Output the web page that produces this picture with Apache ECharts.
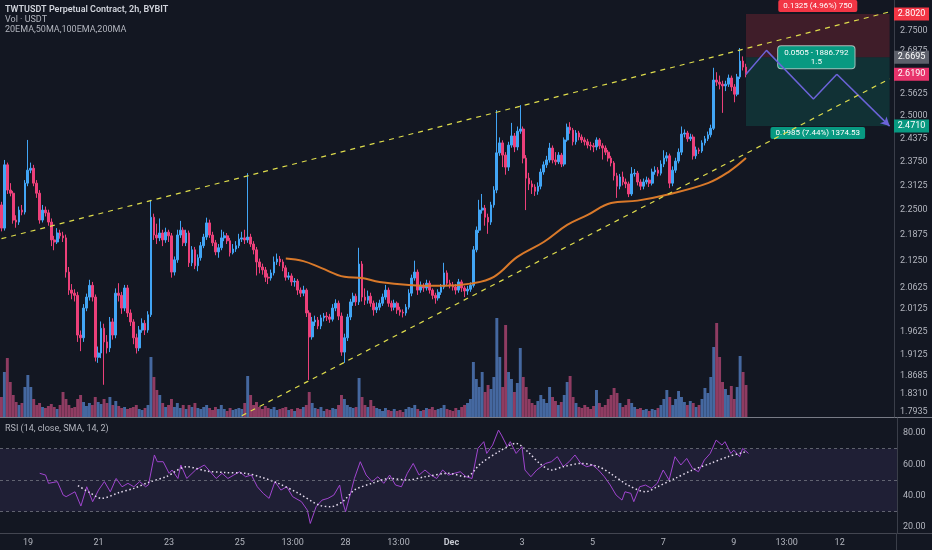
<!DOCTYPE html>
<html><head><meta charset="utf-8">
<script src="https://cdn.jsdelivr.net/npm/echarts@6/dist/echarts.min.js"></script>
<style>html,body{margin:0;padding:0;background:#131722;}#c{width:932px;height:550px;}</style>
</head><body><div id="c"></div>
<script>
// ---------- DATA ----------
const slotCount = 305;            // 2h slots from Nov 18 06:00 (incl. empty future space)
const tickLabels = [[9,'19'],[33,'21'],[57,'23'],[81,'25'],[99,'13:00'],[117,'28'],[135,'13:00'],[153,'Dec'],[177,'3'],[201,'5'],[225,'7'],[249,'9'],[267,'13:00'],[285,'12']];
const priceTicks = [1.7935,1.8310,1.8685,1.9125,1.9625,2.0125,2.0625,2.1250,2.1875,2.2500,2.3125,2.3750,2.4375,2.5000,2.5625,2.6875,2.7500];
const priceMarks = [[2.4710,'tp'],[2.6190,'last'],[2.6695,'entry'],[2.8020,'sl']];
const rsiTicks = [20,40,60,80];

const firstOpen = 2.262;
const closes = [
2.204,2.366,2.300,2.292,2.224,2.219,2.249,2.244,2.318,2.352,
2.357,2.318,2.292,2.224,2.249,2.242,2.219,2.175,2.170,2.192,
2.185,2.180,2.098,2.056,2.049,2.044,1.955,1.949,2.015,2.040,
2.067,2.040,1.907,1.916,1.970,1.940,1.927,1.984,1.955,2.049,
2.044,2.015,2.061,2.004,1.984,1.949,1.927,1.966,1.981,1.966,
2.000,2.231,2.187,2.180,2.192,2.175,2.194,2.185,2.098,2.127,
2.187,2.199,2.168,2.192,2.120,2.151,2.113,2.132,2.161,2.182,
2.217,2.187,2.168,2.146,2.156,2.180,2.185,2.173,2.144,2.153,
2.161,2.177,2.180,2.175,2.182,2.165,2.151,2.122,2.110,2.103,
2.086,2.084,2.096,2.122,2.129,2.122,2.108,2.086,2.089,2.075,
2.077,2.056,2.049,2.056,2.004,1.951,1.984,1.988,1.975,1.993,
1.997,1.995,1.990,2.015,2.026,1.997,1.918,1.949,1.995,2.029,
2.042,2.029,2.117,2.040,2.033,2.042,2.026,2.011,2.017,2.026,
2.040,2.056,2.026,2.017,2.026,2.011,2.006,2.004,2.017,2.049,
2.084,2.098,2.056,2.067,2.061,2.072,2.056,2.044,2.038,2.051,
2.063,2.096,2.072,2.067,2.063,2.056,2.075,2.061,2.054,2.058,
2.067,2.151,2.199,2.249,2.254,2.231,2.219,2.262,2.300,2.398,
2.425,2.392,2.360,2.419,2.444,2.414,2.457,2.463,2.384,2.331,
2.316,2.308,2.297,2.310,2.347,2.366,2.379,2.411,2.379,2.374,
2.392,2.368,2.433,2.468,2.460,2.428,2.452,2.441,2.433,2.428,
2.419,2.417,2.414,2.433,2.417,2.411,2.400,2.384,2.371,2.337,
2.310,2.334,2.321,2.316,2.290,2.342,2.344,2.321,2.310,2.321,
2.326,2.318,2.347,2.352,2.344,2.368,2.384,2.390,2.318,2.352,
2.376,2.400,2.449,2.452,2.436,2.441,2.390,2.406,2.403,2.425,
2.436,2.447,2.465,2.602,2.596,2.590,2.585,2.590,2.608,2.582,
2.561,2.611,2.658,2.640,2.619];
const highs = [
2.270,2.379,2.372,2.318,2.298,2.236,2.258,2.262,2.326,2.433,
2.372,2.366,2.326,2.300,2.262,2.258,2.250,2.228,2.185,2.204,
2.200,2.195,2.188,2.110,2.070,2.058,2.052,1.965,2.024,2.048,
2.080,2.075,2.046,1.930,1.985,1.980,1.955,1.995,1.992,2.060,
2.072,2.052,2.068,2.068,2.012,1.990,1.958,1.975,1.992,1.988,
2.008,2.275,2.240,2.215,2.228,2.200,2.205,2.200,2.192,2.135,
2.200,2.222,2.206,2.200,2.198,2.160,2.158,2.140,2.170,2.190,
2.230,2.225,2.195,2.175,2.165,2.200,2.195,2.192,2.180,2.165,
2.172,2.190,2.195,2.200,2.344,2.190,2.172,2.158,2.130,2.118,
2.110,2.095,2.104,2.135,2.142,2.136,2.128,2.114,2.098,2.095,
2.084,2.082,2.062,2.066,2.060,2.010,1.995,1.998,1.995,2.000,
2.004,2.006,2.002,2.024,2.035,2.032,2.005,1.958,2.002,2.036,
2.050,2.048,2.156,2.124,2.060,2.055,2.050,2.032,2.028,2.034,
2.048,2.068,2.062,2.032,2.034,2.030,2.018,2.012,2.024,2.058,
2.092,2.125,2.104,2.076,2.072,2.080,2.078,2.060,2.050,2.058,
2.070,2.120,2.102,2.080,2.075,2.070,2.082,2.080,2.066,2.066,
2.074,2.160,2.208,2.275,2.290,2.262,2.240,2.270,2.310,2.516,
2.440,2.432,2.400,2.428,2.480,2.452,2.470,2.530,2.470,2.392,
2.345,2.325,2.315,2.320,2.356,2.375,2.390,2.425,2.418,2.400,
2.400,2.398,2.440,2.478,2.482,2.466,2.460,2.458,2.448,2.440,
2.436,2.428,2.425,2.440,2.438,2.424,2.418,2.406,2.390,2.376,
2.345,2.342,2.348,2.330,2.322,2.360,2.355,2.350,2.328,2.330,
2.335,2.332,2.356,2.362,2.360,2.378,2.405,2.400,2.396,2.362,
2.385,2.410,2.470,2.462,2.458,2.450,2.448,2.415,2.412,2.432,
2.444,2.456,2.475,2.638,2.625,2.615,2.600,2.600,2.618,2.615,
2.590,2.620,2.697,2.672,2.650];
const lows = [
2.196,2.198,2.290,2.284,2.215,2.205,2.212,2.236,2.238,2.310,
2.344,2.310,2.280,2.215,2.218,2.233,2.210,2.160,2.150,2.165,
2.178,2.170,2.085,2.045,2.035,2.030,1.940,1.920,1.940,2.008,
2.032,2.030,1.898,1.895,1.905,1.849,1.915,1.918,1.945,1.948,
2.030,2.002,2.008,1.995,1.975,1.935,1.915,1.920,1.960,1.955,
1.960,1.995,2.175,2.165,2.172,2.160,2.168,2.170,2.085,2.090,
2.120,2.180,2.160,2.160,2.110,2.112,2.105,2.100,2.125,2.155,
2.175,2.180,2.160,2.138,2.132,2.150,2.172,2.165,2.135,2.140,
2.146,2.155,2.170,2.165,2.168,2.158,2.140,2.090,2.095,2.092,
2.075,2.070,2.078,2.090,2.115,2.112,2.100,2.078,2.080,2.066,
2.064,2.045,2.040,2.042,1.995,1.859,1.945,1.975,1.968,1.968,
1.985,1.986,1.982,1.985,2.008,1.988,1.910,1.895,1.942,1.988,
2.020,2.020,2.022,2.030,2.022,2.025,2.018,1.998,2.004,2.010,
2.020,2.034,2.018,2.008,2.010,2.002,1.998,1.994,1.998,2.012,
2.042,2.078,2.045,2.050,2.052,2.055,2.048,2.035,2.025,2.032,
2.045,2.058,2.065,2.060,2.055,2.046,2.050,2.052,2.040,2.045,
2.052,2.062,2.145,2.192,2.240,2.210,2.190,2.212,2.255,2.292,
2.390,2.360,2.340,2.350,2.412,2.400,2.405,2.450,2.370,2.249,
2.300,2.290,2.285,2.288,2.302,2.340,2.358,2.372,2.370,2.365,
2.368,2.360,2.362,2.428,2.450,2.418,2.420,2.432,2.425,2.418,
2.410,2.405,2.400,2.405,2.408,2.380,2.392,2.375,2.362,2.325,
2.280,2.302,2.312,2.305,2.282,2.285,2.335,2.312,2.300,2.302,
2.315,2.308,2.312,2.340,2.336,2.338,2.360,2.375,2.305,2.310,
2.345,2.370,2.392,2.440,2.428,2.430,2.380,2.382,2.395,2.398,
2.418,2.430,2.440,2.460,2.585,2.575,2.508,2.570,2.582,2.570,
2.538,2.555,2.605,2.630,2.610];
const volumes = [
20,45,59,35,22,15,12,14,30,42, 30,18,12,14,10,9,11,13,10,8,
12,25,18,12,9,10,18,22,15,11, 14,12,20,15,13,18,14,20,12,16,
11,9,10,8,9,10,12,8,7,9, 12,60,40,27,22,14,10,12,18,10,
14,9,12,8,12,10,14,9,8,10, 12,9,7,10,8,12,8,6,9,7,
8,9,8,14,41,22,12,15,10,8, 11,9,8,10,7,8,9,10,7,8,
6,9,8,10,12,25,14,9,8,10, 6,8,7,9,8,12,22,18,12,10,
9,10,39,20,12,10,17,11,9,8, 6,9,7,6,8,6,7,5,8,10,
9,12,8,6,7,9,8,10,7,8, 9,12,8,7,6,9,7,10,12,14,
18,55,38,30,45,25,32,28,40,99, 60,30,92,45,38,25,34,69,40,30,
18,14,12,16,22,18,14,30,20,16, 12,15,22,35,41,20,14,10,9,12,
10,8,11,27,14,10,12,18,22,29, 24,14,10,12,18,14,10,8,9,7,
8,6,8,7,9,12,18,27,20,12, 18,26,20,15,12,16,14,10,12,18,
29,24,40,70,94,60,35,28,22,31, 18,30,61,45,32];
const ema100 = [[97,2.130],[103,2.124],[109,2.108],[117,2.087],[123,2.084],[129,2.075],[139,2.068],[151,2.066],[160,2.071],[168,2.087],[176,2.134],[185,2.170],[193,2.212],[200,2.237],[208,2.267],[217,2.273],[227,2.288],[241,2.318],[248,2.347],[254,2.384]];
const upperChannel = [[0,2.178],[304,2.811]];
const lowerChannel = [[82,1.786],[303,2.6055]];
const projection = [[254,2.619],[261,2.690],[277,2.547],[285,2.619]];
const projectionEnd = [303,2.471];
const position = {start:254, end:303, stop:2.802, entry:2.6695, target:2.471, labelSlot:278};
const rsi = [[13,54.3],[15,53.2],[16,47.9],[19,49],[21,40.4],[22,39.4],[25,42.5],[27,33.4],[29,45.7],[31,36.2],[33,43.6],[35,49],[37,42.5],[39,51],[41,45.7],[43,47.9],[45,45.7],[47,49],[49,45.7],[50,47],[52,66],[53,61.7],[55,61.7],[57,54.3],[58,56.4],[60,51],[61,59.6],[63,51],[66,56.4],[69,59.6],[71,55.3],[73,51],[75,54.3],[77,51],[79,53.2],[81,55.3],[83,52.1],[85,53.2],[87,45.7],[89,41.5],[91,38.3],[93,49],[95,43.6],[97,45.7],[99,39.4],[102,36.2],[104,30.8],[105,22.3],[107,33],[109,37.2],[111,38.3],[113,40.4],[115,46.8],[116,36.2],[117,29.8],[119,43.6],[120,51],[122,61.7],[124,53.2],[126,49],[128,52.1],[130,47.9],[132,53.2],[134,46.8],[136,45.7],[138,54.3],[140,60.6],[142,53.2],[144,56.4],[146,53.2],[148,51],[150,56.4],[152,53.2],[154,54.3],[156,55.3],[158,52.1],[160,51],[162,70.2],[164,74.5],[165,67],[167,72.3],[169,81.9],[170,78.7],[172,71.3],[173,74.5],[175,67],[177,71.3],[178,56.4],[180,52.1],[182,56.4],[185,60.6],[187,61.7],[189,64.9],[191,58.5],[193,61.7],[195,66],[197,60.6],[199,58.5],[201,59.6],[203,56.4],[205,52.1],[207,46.8],[209,40.4],[211,37.2],[212,42.5],[214,41.5],[215,36.2],[217,45.7],[219,46.8],[221,44.7],[223,47.9],[225,56.4],[227,50],[229,64.9],[231,59.6],[233,63.8],[235,57.4],[237,55.3],[239,62.8],[241,67],[243,75.5],[245,72.3],[246,74.5],[248,67],[249,69.1],[251,64.9],[252,70.2],[254,67]];
const rsiSma = [[26,46.4],[30,42],[34,38.3],[40,42],[45,44.7],[50,48.5],[56,52.1],[63,58.5],[70,55.7],[76,54.8],[83,54.3],[88,52],[94,48],[101,41.5],[108,34],[112,33],[116,36.2],[120,43.6],[126,47.9],[132,51],[138,50],[144,52.1],[152,54.3],[158,52.1],[163,60.6],[169,68],[175,73.4],[179,68],[183,60.6],[187,56.4],[191,58.5],[197,60.6],[203,58.5],[207,54.3],[213,46.8],[219,42.5],[223,45.7],[229,51],[235,56.4],[241,60.6],[247,64.9],[253,68]];

// ---------- BUILD ----------
const slots = Array.from({length: slotCount}, (_, i) => i);
const labelMap = {}; tickLabels.forEach(([i, t]) => labelMap[i] = t);
const candles = closes.map((c, i) => [i === 0 ? firstOpen : closes[i - 1], c, lows[i], highs[i]]);
const UP = '#42a5f5', DOWN = '#ec407a';
const volData = volumes.map((v, i) => ({value: v, itemStyle: {color: candles[i][1] >= candles[i][0] ? '#4568a0' : '#8f3c62'}}));
const markStyle = {tp: '#089981', last: '#e8336b', entry: '#5d606b', sl: '#f23645'};
const markLookup = {}; priceMarks.forEach(([v, k]) => markLookup[v.toFixed(4)] = k);
const FONT = 'Roboto';

const chart = echarts.init(document.getElementById('c'));
chart.setOption({
  animation: false,
  backgroundColor: '#131722',
  textStyle: {fontFamily: FONT},
  grid: [
    {left: 0, right: 35, top: 0, height: 417},
    {left: 0, right: 35, top: 418, height: 115}
  ],
  xAxis: [
    {type: 'category', data: slots, gridIndex: 0, show: false, boundaryGap: true},
    {type: 'category', data: slots, gridIndex: 1, boundaryGap: true,
      axisLine: {show: false}, axisTick: {show: false}, splitLine: {show: false},
      axisLabel: {
        color: '#b2b5be', fontSize: 9, margin: 5, fontFamily: FONT,
        interval: (idx) => labelMap[idx] !== undefined,
        formatter: (v, idx) => labelMap[idx] === 'Dec' ? '{b|Dec}' : (labelMap[idx] || ''),
        rich: {b: {fontWeight: 'bold', fontSize: 9, color: '#c5c8d0'}}
      }}
  ],
  yAxis: [
    {type: 'log', gridIndex: 0, position: 'right', min: 1.7834, max: 2.8463,
      splitLine: {show: false}, axisTick: {show: false},
      axisLine: {show: true, lineStyle: {color: '#3a3e49'}},
      axisLabel: {
        margin: 0, fontSize: 9, fontFamily: FONT,
        customValues: priceTicks.concat(priceMarks.map(m => m[0])),
        formatter: (v) => {
          const s = Number(v).toFixed(4);
          const k = markLookup[s];
          return k ? '{' + k + '|' + s + '}' : '{n|' + s + '}';
        },
        rich: {
          n: {color: '#b2b5be', padding: [0, 0, 0, 6], fontSize: 9},
          tp: {color: '#fff', backgroundColor: markStyle.tp, padding: [2, 3], width: 29, align: 'center', fontSize: 9},
          last: {color: '#fff', backgroundColor: markStyle.last, padding: [2, 3], width: 29, align: 'center', fontSize: 9},
          entry: {color: '#fff', backgroundColor: markStyle.entry, padding: [2, 3], width: 29, align: 'center', fontSize: 9},
          sl: {color: '#fff', backgroundColor: markStyle.sl, padding: [2, 3], width: 29, align: 'center', fontSize: 9}
        }
      }},
    {type: 'value', gridIndex: 0, min: 0, max: 417, show: false},
    {type: 'value', gridIndex: 1, position: 'right', min: 16.2, max: 89.6,
      splitLine: {show: false}, axisTick: {show: false},
      axisLine: {show: true, lineStyle: {color: '#3a3e49'}},
      axisLabel: {color: '#b2b5be', fontSize: 9, margin: 6, fontFamily: FONT,
        customValues: rsiTicks, formatter: (v) => Number(v).toFixed(2)}}
  ],
  series: [
    {type: 'bar', name: 'Vol', xAxisIndex: 0, yAxisIndex: 1, data: volData, barCategoryGap: '0%', z: 1, silent: true},
    {type: 'candlestick', name: 'TWTUSDT', xAxisIndex: 0, yAxisIndex: 0, data: candles, barWidth: 2.2, z: 3,
      itemStyle: {color: UP, color0: DOWN, borderColor: UP, borderColor0: DOWN, borderWidth: 1},
      markArea: {silent: true, data: [
        [{xAxis: position.start, yAxis: position.stop, itemStyle: {color: 'rgba(242,54,69,0.2)'},
          label: {show: true, position: 'top', distance: 2, formatter: '0.1325 (4.96%) 750', color: '#fff', fontSize: 8,
            backgroundColor: '#f23645', padding: [2, 5], borderRadius: 2}},
         {xAxis: position.end, yAxis: position.entry}],
        [{xAxis: position.start, yAxis: position.entry, itemStyle: {color: 'rgba(8,153,129,0.2)'},
          label: {show: true, position: 'bottom', distance: 1, formatter: '0.1985 (7.44%) 1374.53', color: '#fff', fontSize: 8,
            backgroundColor: '#089981', padding: [2, 5], borderRadius: 2}},
         {xAxis: position.end, yAxis: position.target}]
      ]},
      markPoint: {silent: true, symbol: 'rect', symbolSize: 1, itemStyle: {color: 'rgba(0,0,0,0)'},
        data: [{coord: [position.labelSlot, position.entry],
          label: {show: true, position: 'inside', formatter: '0.0505 - 1886.792\n1.5', color: '#fff', fontSize: 8, lineHeight: 9,
            align: 'center', backgroundColor: '#089981', borderColor: 'rgba(220,255,245,0.7)', borderWidth: 1, borderRadius: 3, padding: [2, 6]}}]}
    },
    {type: 'line', name: '100EMA', xAxisIndex: 0, yAxisIndex: 0, data: ema100, smooth: 0.4, symbol: 'none',
      lineStyle: {color: '#d9792a', width: 2}, z: 4},
    {type: 'line', name: 'upper', xAxisIndex: 0, yAxisIndex: 0, data: upperChannel, symbol: 'none',
      lineStyle: {color: '#dedc4c', width: 1.2, type: [5, 5]}, z: 5},
    {type: 'line', name: 'lower', xAxisIndex: 0, yAxisIndex: 0, data: lowerChannel, symbol: 'none',
      lineStyle: {color: '#dedc4c', width: 1.2, type: [5, 5]}, z: 5},
    {type: 'line', name: 'projection', xAxisIndex: 0, yAxisIndex: 0, data: projection, symbol: 'none',
      lineStyle: {color: '#6c63d9', width: 1.5}, z: 6,
      markLine: {silent: true, symbol: ['none', 'arrow'], symbolSize: [7, 9], label: {show: false},
        lineStyle: {color: '#6c63d9', width: 1.5, type: 'solid'},
        data: [[{coord: projection[projection.length - 1]}, {coord: projectionEnd}]]}},
    {type: 'line', name: 'RSI', xAxisIndex: 1, yAxisIndex: 2, data: rsi, symbol: 'none',
      lineStyle: {color: '#a045cf', width: 1}, z: 3,
      markArea: {silent: true, itemStyle: {color: 'rgba(126,87,194,0.12)'}, data: [[{yAxis: 30}, {yAxis: 70}]]},
      markLine: {silent: true, symbol: 'none', label: {show: false},
        lineStyle: {color: 'rgba(120,123,134,0.75)', type: [3, 3], width: 1},
        data: [{yAxis: 70}, {yAxis: 50}, {yAxis: 30}]}},
    {type: 'line', name: 'RSI SMA', xAxisIndex: 1, yAxisIndex: 2, data: rsiSma, symbol: 'none', smooth: 0.3,
      lineStyle: {color: '#e6dcef', width: 1.5, type: [1.5, 2.5]}, z: 4}
  ],
  graphic: [
    {type: 'line', shape: {x1: 0, y1: 417.5, x2: 932, y2: 417.5}, style: {stroke: '#787b86', lineWidth: 1}, silent: true},
    {type: 'line', shape: {x1: 0, y1: 533.5, x2: 932, y2: 533.5}, style: {stroke: '#434651', lineWidth: 1}, silent: true},
    {type: 'line', shape: {x1: 896.5, y1: 533, x2: 896.5, y2: 550}, style: {stroke: '#3a3e49', lineWidth: 1}, silent: true},
    {type: 'text', left: 5, top: 5, style: {text: 'TWTUSDT Perpetual Contract, 2h, BYBIT', fill: '#d1d4dc', font: '600 9px Roboto'}},
    {type: 'text', left: 5, top: 15, style: {text: 'Vol · USDT', fill: '#b2b5be', font: '9px Roboto'}},
    {type: 'text', left: 5, top: 25, style: {text: '20EMA,50MA,100EMA,200MA', fill: '#b2b5be', font: '9px Roboto'}},
    {type: 'text', left: 5, top: 424, style: {text: 'RSI (14, close, SMA, 14, 2)', fill: '#b2b5be', font: '9px Roboto'}}
  ]
});
</script></body></html>
